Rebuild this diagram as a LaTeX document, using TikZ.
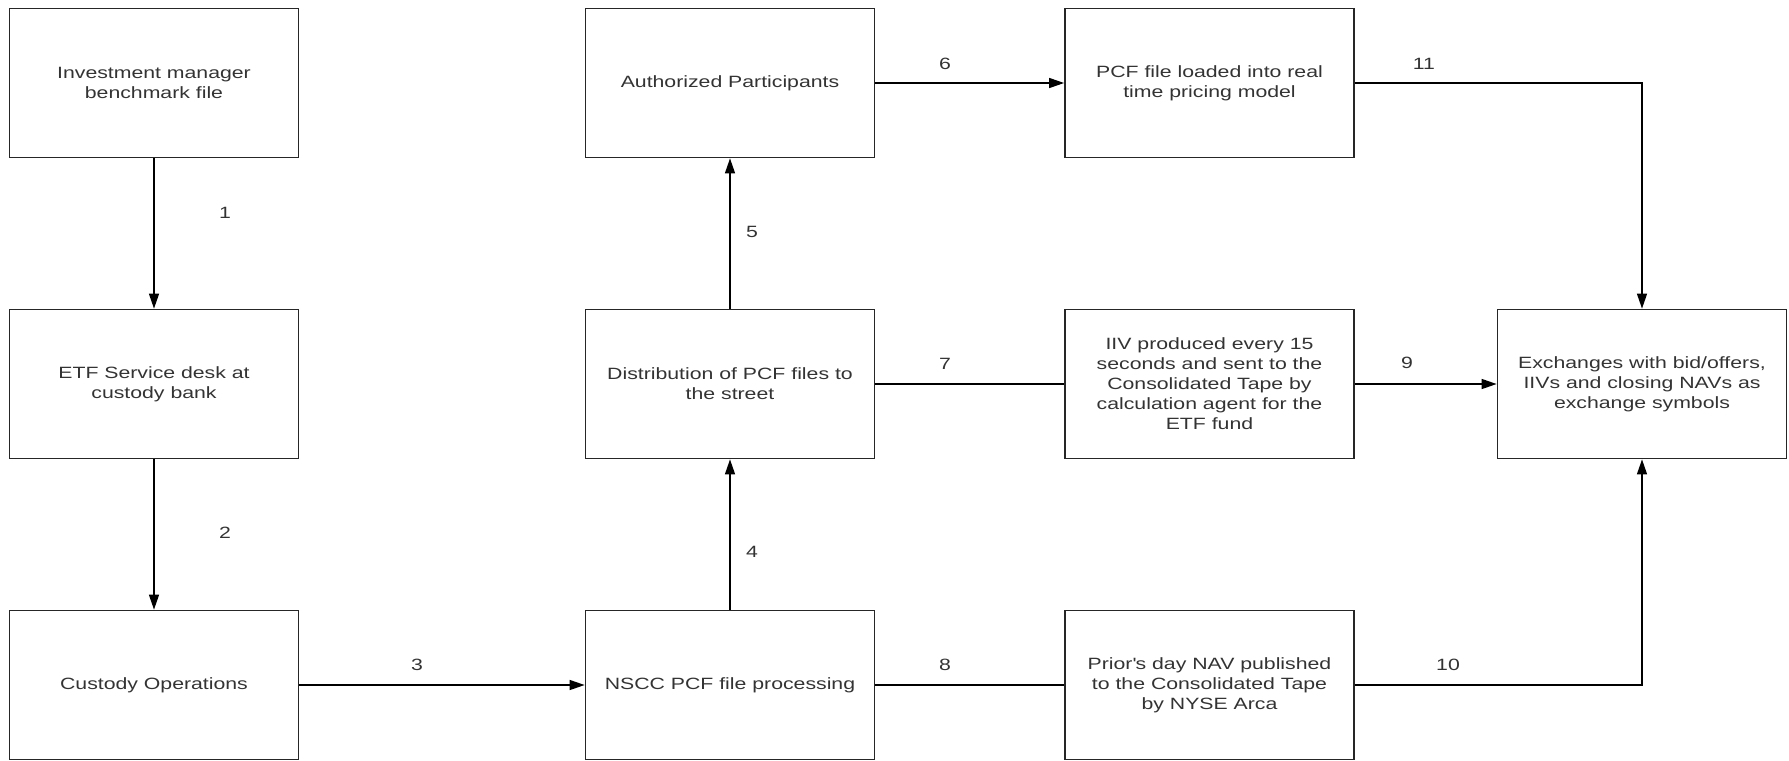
\documentclass[tikz,border=0pt]{standalone}
\usepackage{xcolor}
\usepackage{fontspec}
\setmainfont{Liberation Sans}[FakeStretch=1.3]
\usepackage{tikz}
\usetikzlibrary{arrows.meta}
\usetikzlibrary{positioning}
\definecolor{ink}{HTML}{333333}
\tikzset{>={Triangle[length=0.3cm, width=0.2cm]}}
\tikzstyle{blk} = [rectangle, draw=black!85, line width=1pt, minimum width=5.78cm, minimum height=2.98cm, inner sep=0pt, align=center, text=ink, font=\fontsize{9.3}{11.4}\selectfont]
\tikzstyle{num} = [draw=none, text=ink, font=\fontsize{9.3}{11.4}\selectfont]
\tikzstyle{flow} = [line width=0.8pt, draw=black]

\begin{document}
\begin{tikzpicture}
\useasboundingbox (0, 0) rectangle (35.78, -15.2);
\node [blk] (IM) at (3.08, -1.66) {Investment manager\\benchmark file};
\node [blk] (ETF) at (3.08, -7.68) {ETF Service desk at\\custody bank};
\node [blk] (CO) at (3.08, -13.7) {Custody Operations};
\node [blk] (AP) at (14.6, -1.66) {Authorized Participants};
\node [blk] (DP) at (14.6, -7.68) {Distribution of PCF files to\\the street};
\node [blk] (NSCC) at (14.6, -13.7) {NSCC PCF file processing};
\node [blk] (PCF) at (24.19, -1.66) {PCF file loaded into real\\time pricing model};
\node [blk] (IIV) at (24.19, -7.68) {IIV produced every 15\\seconds and sent to the\\Consolidated Tape by\\calculation agent for the\\ETF fund};
\node [blk] (NAV) at (24.19, -13.7) {Prior\textquotesingle s day NAV published\\to the Consolidated Tape\\by NYSE Arca};
\node [blk] (EX) at (32.84, -7.68) {Exchanges with bid/offers,\\IIVs and closing NAVs as\\exchange symbols};
\draw [flow, ->] (IM) to (ETF);
\draw [flow, ->] (ETF) to (CO);
\draw [flow, ->] (CO) to (NSCC);
\draw [flow, ->] (NSCC) to (DP);
\draw [flow, ->] (DP) to (AP);
\draw [flow, ->] (AP) to (PCF);
\draw [flow] (DP) to (IIV);
\draw [flow] (NSCC) to (NAV);
\draw [flow, ->] (IIV) to (EX);
\draw [flow, ->] (NAV) -| (EX);
\draw [flow, ->] (PCF) -| (EX);
\node [num] (n1) at (4.5, -4.26) {1};
\node [num] (n2) at (4.5, -10.66) {2};
\node [num] (n3) at (8.34, -13.3) {3};
\node [num] (n4) at (15.04, -11.04) {4};
\node [num] (n5) at (15.04, -4.64) {5};
\node [num] (n6) at (18.9, -1.27) {6};
\node [num] (n7) at (18.9, -7.28) {7};
\node [num] (n8) at (18.9, -13.3) {8};
\node [num] (n9) at (28.14, -7.26) {9};
\node [num] (n10) at (28.96, -13.3) {10};
\node [num] (n11) at (28.48, -1.27) {11};
\end{tikzpicture}
\end{document}
